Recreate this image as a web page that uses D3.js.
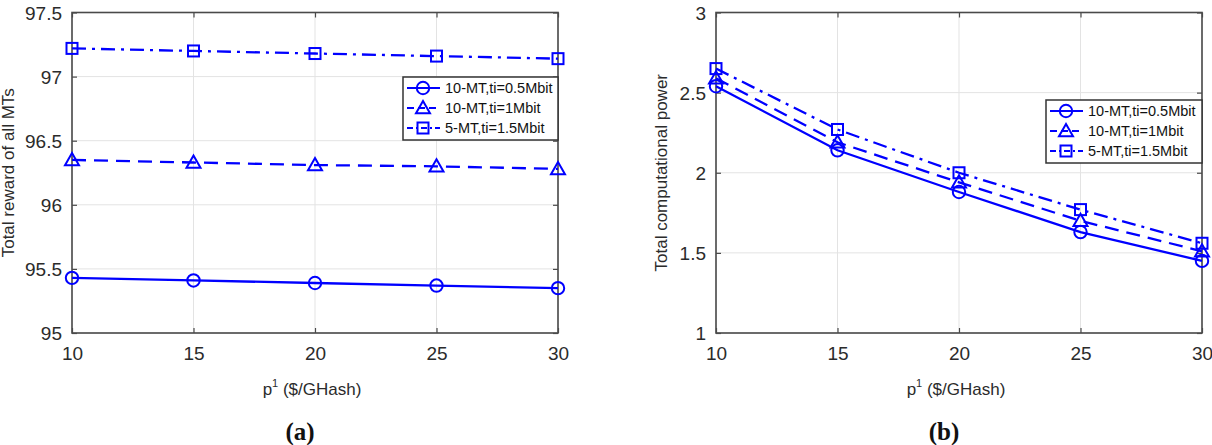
<!DOCTYPE html>
<html>
<head>
<meta charset="utf-8">
<script src="https://cdn.jsdelivr.net/npm/d3@7"></script>
<style>
  html, body { margin: 0; padding: 0; background: #fff; }
  svg { display: block; }
</style>
</head>
<body>
<svg id="chart" width="1212" height="445"></svg>
<script>
// ---------- data ----------
const xValues = [10, 15, 20, 25, 30];
const xTicks = [10, 15, 20, 25, 30];

const seriesNames = ["10-MT,ti=0.5Mbit", "10-MT,ti=1Mbit", "5-MT,ti=1.5Mbit"];

// (a) Total reward of all MTs
const rewardCircle   = [95.43, 95.41, 95.39, 95.37, 95.35];
const rewardTriangle = [96.35, 96.33, 96.31, 96.30, 96.28];
const rewardSquare   = [97.22, 97.20, 97.18, 97.16, 97.14];
const rewardTicks = [95, 95.5, 96, 96.5, 97, 97.5];
const rewardTickLabels = ["95", "95.5", "96", "96.5", "97", "97.5"];

// (b) Total computational power
const powerCircle   = [2.54, 2.14, 1.88, 1.63, 1.45];
const powerTriangle = [2.59, 2.19, 1.94, 1.70, 1.51];
const powerSquare   = [2.65, 2.27, 2.00, 1.77, 1.56];
const powerTicks = [1, 1.5, 2, 2.5, 3];
const powerTickLabels = ["1", "1.5", "2", "2.5", "3"];

// ---------- drawing ----------
const svg = d3.select("#chart");
const SANS = "'Liberation Sans', Arial, Helvetica, sans-serif";
const SERIF = "'Liberation Serif', 'DejaVu Serif', serif";
const BLUE = "#0000ff";
const AXIS = "#4a4a4a";
const GRID = "#e3e3e3";
const TXT = "#2b2b2b";
const styles = [
  { marker: "circle", dash: null, legendDash: null },
  { marker: "triangle", dash: "14,8", legendDash: "7,4" },
  { marker: "square", dash: "14,6,3,6", legendDash: "6,3,2,3" }
];

function drawMarker(g, type, cx, cy) {
  if (type === "circle") {
    g.append("circle").attr("cx", cx).attr("cy", cy).attr("r", 6.2)
      .attr("fill", "none").attr("stroke", BLUE).attr("stroke-width", 2);
  } else if (type === "triangle") {
    const s = 7;
    g.append("path")
      .attr("d", `M${cx},${cy - s} L${cx + s},${cy + s * 0.75} L${cx - s},${cy + s * 0.75} Z`)
      .attr("fill", "none").attr("stroke", BLUE).attr("stroke-width", 2);
  } else {
    const s = 5.5;
    g.append("rect").attr("x", cx - s).attr("y", cy - s).attr("width", 2 * s).attr("height", 2 * s)
      .attr("fill", "none").attr("stroke", BLUE).attr("stroke-width", 2);
  }
}

function panel(opt) {
  const { x0, x1, y0, y1 } = opt;
  const x = d3.scaleLinear().domain([10, 30]).range([x0, x1]);
  const y = d3.scaleLinear().domain(opt.yDomain).range([y1, y0]);
  const g = svg.append("g");

  // grid
  g.append("g").selectAll("line").data(xTicks).join("line")
    .attr("x1", d => x(d)).attr("x2", d => x(d)).attr("y1", y0).attr("y2", y1)
    .attr("stroke", GRID).attr("stroke-width", 1);
  g.append("g").selectAll("line").data(opt.yTicks).join("line")
    .attr("y1", d => y(d)).attr("y2", d => y(d)).attr("x1", x0).attr("x2", x1)
    .attr("stroke", GRID).attr("stroke-width", 1);

  // axes via d3 (ticks inward)
  const xAxis = d3.axisBottom(x).tickValues(xTicks).tickSizeInner(-5).tickSizeOuter(0).tickPadding(14)
    .tickFormat(d3.format("d"));
  const gx = g.append("g").attr("transform", `translate(0,${y1})`).call(xAxis);
  const yAxis = d3.axisLeft(y).tickValues(opt.yTicks).tickSizeInner(-5).tickSizeOuter(0).tickPadding(10)
    .tickFormat((d, i) => opt.yTickLabels[i]);
  const gy = g.append("g").attr("transform", `translate(${x0},0)`).call(yAxis);
  const xAxisT = d3.axisTop(x).tickValues(xTicks).tickSizeInner(-5).tickSizeOuter(0).tickFormat("");
  const gxt = g.append("g").attr("transform", `translate(0,${y0})`).call(xAxisT);
  const yAxisR = d3.axisRight(y).tickValues(opt.yTicks).tickSizeInner(-5).tickSizeOuter(0).tickFormat("");
  const gyr = g.append("g").attr("transform", `translate(${x1},0)`).call(yAxisR);
  [gx, gy, gxt, gyr].forEach(a => {
    a.select(".domain").remove();
    a.selectAll(".tick line").attr("stroke", AXIS).attr("stroke-width", 1.2);
    a.selectAll(".tick text").attr("fill", TXT).style("font-size", "19px").style("font-family", SANS);
  });
  gy.selectAll(".tick text").attr("dy", "0.35em");

  // box
  g.append("rect").attr("x", x0).attr("y", y0).attr("width", x1 - x0).attr("height", y1 - y0)
    .attr("fill", "none").attr("stroke", AXIS).attr("stroke-width", 1.6);

  // series
  opt.series.forEach((vals, si) => {
    const st = styles[si];
    const line = d3.line().x((d, i) => x(xValues[i])).y(d => y(d));
    g.append("path").datum(vals).attr("d", line).attr("fill", "none")
      .attr("stroke", BLUE).attr("stroke-width", 2.3)
      .attr("stroke-dasharray", st.dash);
    vals.forEach((v, i) => drawMarker(g, st.marker, x(xValues[i]), y(v)));
  });

  // axis labels
  const xl = g.append("text").attr("x", (x0 + x1) / 2 - 3).attr("y", y1 + 62)
    .attr("text-anchor", "middle").attr("fill", TXT)
    .style("font-family", SANS).style("font-size", "17px");
  xl.append("tspan").text("p");
  xl.append("tspan").style("font-size", "11px").attr("dy", -8).text("1");
  xl.append("tspan").attr("dy", 8).text(" ($/GHash)");

  g.append("text")
    .attr("transform", `translate(${opt.yLabelX},${(y0 + y1) / 2}) rotate(-90)`)
    .attr("text-anchor", "middle").attr("fill", TXT)
    .style("font-family", SANS).style("font-size", "17px")
    .text(opt.yLabel);

  // caption
  g.append("text").attr("x", opt.capX).attr("y", 440).attr("text-anchor", "middle")
    .style("font-family", SERIF).style("font-weight", "bold").style("font-size", "25px")
    .attr("fill", "#111")
    .text(opt.caption);

  // legend
  const L = opt.legend;
  const lg = g.append("g");
  lg.append("rect").attr("x", L.x).attr("y", L.y).attr("width", x1 - L.x).attr("height", 63)
    .attr("fill", "#fff").attr("stroke", "#333").attr("stroke-width", 1.5);
  seriesNames.forEach((name, i) => {
    const ry = L.y + 11 + i * 20;
    lg.append("line").attr("x1", L.x + 4).attr("x2", L.x + 37).attr("y1", ry).attr("y2", ry)
      .attr("stroke", BLUE).attr("stroke-width", 2).attr("stroke-dasharray", styles[i].legendDash);
    drawMarker(lg, styles[i].marker, L.x + 20, ry);
    lg.append("text").attr("x", L.x + 42).attr("y", ry).attr("dy", "0.35em")
      .style("font-family", SANS).style("font-size", "14.5px").attr("fill", "#111").text(name);
  });
}

panel({
  x0: 72, x1: 558, y0: 12.5, y1: 333,
  yDomain: [95, 97.5], yTicks: rewardTicks, yTickLabels: rewardTickLabels,
  series: [rewardCircle, rewardTriangle, rewardSquare],
  yLabel: "Total reward of all MTs", yLabelX: 14,
  caption: "(a)", capX: 300,
  legend: { x: 403, y: 77 }
});

panel({
  x0: 716, x1: 1202, y0: 12.5, y1: 333,
  yDomain: [1, 3], yTicks: powerTicks, yTickLabels: powerTickLabels,
  series: [powerCircle, powerTriangle, powerSquare],
  yLabel: "Total computational power", yLabelX: 667,
  caption: "(b)", capX: 944,
  legend: { x: 1046, y: 100 }
});
</script>
</body>
</html>
